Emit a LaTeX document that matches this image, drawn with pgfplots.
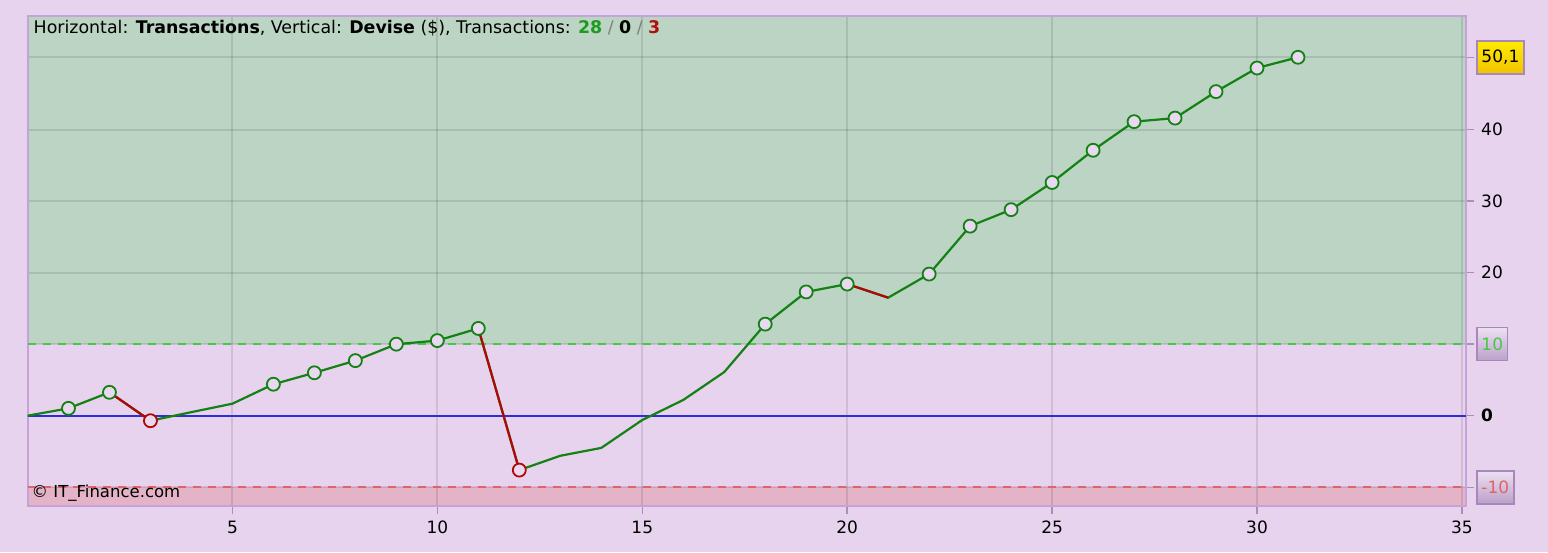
\documentclass[border=0pt]{standalone}
\usepackage{fontspec}
\setmainfont{DejaVu Sans}
\usepackage{pgfplots}
\pgfplotsset{compat=1.18}

\definecolor{bgl}{HTML}{E7D3EE}
\definecolor{zgreen}{HTML}{BCD4C4}
\definecolor{zred}{HTML}{E4B3C7}
\definecolor{lgreen}{HTML}{138213}
\definecolor{lred}{HTML}{B00808}
\definecolor{mfill}{HTML}{E8D8F0}
\definecolor{zline}{HTML}{2E2ED4}
\definecolor{gdash}{HTML}{46C846}
\definecolor{rdash}{HTML}{E06464}
\definecolor{frame}{HTML}{C6A2D8}
\definecolor{tickc}{HTML}{A890B4}
\definecolor{boxframe}{HTML}{A888B8}
\definecolor{tgreen}{HTML}{1E9A1E}
\definecolor{tred}{HTML}{B01010}
\pagecolor{bgl}

% boxed tick label: top colour, bottom colour, text colour, text
\newcommand\boxlab[4]{\tikz[baseline=(b.base)]\node[rectangle, draw=boxframe,
  line width=1.5pt, top color=#1, bottom color=#2, text=#3, inner xsep=4.5pt,
  minimum height=33pt, anchor=base](b){#4};}
\newcommand\plainlab[1]{\hspace*{5pt}#1}

\begin{document}
\begin{tikzpicture}[font=\fontsize{17}{20}\selectfont]
\path (0,0) rectangle (1548pt,552pt);
\begin{axis}[
    at={(27.5pt,46.5pt)}, anchor=south west,
    scale only axis, width=1438.5pt, height=489pt,
    xmin=0, xmax=35.1, ymin=-12.55, ymax=55.8,
    set layers,
    /pgf/number format/assume math mode=true,
    axis line style={draw=frame, line width=2pt},
    xtick={5,10,15,20,25,30,35},
    xtick pos=bottom, ytick pos=right, yticklabel pos=right,
    ytick={-10,0,10,20,30,40,50.1},
    yticklabels={{\boxlab{mfill!80!white}{boxframe!70!mfill}{rdash}{-10}},
      {\plainlab{\textbf{0}}},
      {\boxlab{mfill!80!white}{boxframe!70!mfill}{gdash}{10}},
      {\plainlab{20}},{\plainlab{30}},{\plainlab{40}},
      {\boxlab{yellow!85!orange}{orange!40!yellow!95!black}{black}{50,1}}},
    tick align=outside, major tick length=8pt,
    tick style={draw=tickc, line width=1.5pt},
    yticklabel style={anchor=west, inner sep=0pt, xshift=2pt},
    xticklabel style={anchor=north, inner sep=0pt, yshift=-7pt},
    grid=major,
    grid style={draw=black, opacity=0.1, line width=2pt},
    clip=true,
  ]
% zones
\addplot[on layer=axis background, fill=zgreen, draw=none]
  coordinates {(0,10) (35.1,10) (35.1,55.8) (0,55.8)} -- cycle;
\addplot[on layer=axis background, fill=bgl, draw=none]
  coordinates {(0,-10) (35.1,-10) (35.1,10) (0,10)} -- cycle;
\addplot[on layer=axis background, fill=zred, draw=none]
  coordinates {(0,-12.55) (35.1,-12.55) (35.1,-10) (0,-10)} -- cycle;
% reference lines
\addplot[gdash, line width=2pt, dash pattern=on 8pt off 7pt] coordinates {(0,10) (35.1,10)};
\addplot[rdash, line width=1.6pt, dash pattern=on 8pt off 7pt] coordinates {(0,-10) (35.1,-10)};
\addplot[zline, line width=2pt] coordinates {(0,0) (35.1,0)};
% equity curve
\addplot[lgreen, line width=2.2pt] coordinates {
  (0,0) (1,1.03) (2,3.27) (3,-0.7) (4,0.5) (5,1.68) (6,4.4) (7,6.0) (8,7.7)
  (9,10.0) (10,10.5) (11,12.2) (12,-7.6) (13,-5.6) (14,-4.5) (15,-0.6)
  (16,2.2) (17,6.1) (18,12.8) (19,17.3) (20,18.4) (21,16.5) (22,19.8)
  (23,26.5) (24,28.8) (25,32.6) (26,37.1) (27,41.1) (28,41.6) (29,45.3)
  (30,48.6) (31,50.1)};
% losing trades
\addplot[lred, line width=2.2pt, unbounded coords=jump] coordinates {
  (2,3.27) (3,-0.7) (3,nan) (11,12.2) (12,-7.6) (12,nan) (20,18.4) (21,16.5)};
% markers
\addplot[only marks, mark=*, mark size=6.5pt,
  mark options={draw=lgreen, fill=mfill, line width=1.8pt}] coordinates {
  (1,1.03) (2,3.27) (6,4.4) (7,6.0) (8,7.7) (9,10.0) (10,10.5) (11,12.2)
  (18,12.8) (19,17.3) (20,18.4) (22,19.8) (23,26.5) (24,28.8) (25,32.6)
  (26,37.1) (27,41.1) (28,41.6) (29,45.3) (30,48.6) (31,50.1)};
\addplot[only marks, mark=*, mark size=6.5pt,
  mark options={draw=lred, fill=mfill, line width=1.8pt}] coordinates {
  (3,-0.7) (12,-7.6)};
% texts
\node[anchor=north west, inner sep=0pt, font=\fontsize{17.4}{20}\selectfont]
  at ([xshift=6pt,yshift=-4pt]rel axis cs:0,1)
  {Horizontal: \textbf{Transactions}, Vertical: \textbf{Devise} (\$), Transactions:
   \textcolor{tgreen}{\textbf{28}} \textcolor{gray}{/} \textbf{0}
   \textcolor{gray}{/} \textcolor{tred}{\textbf{3}}};
\node[anchor=south west, inner sep=0pt, font=\fontsize{16.5}{19}\selectfont]
  at ([xshift=4pt,yshift=4pt]rel axis cs:0,0) {© IT\_Finance.com};
\end{axis}
\end{tikzpicture}
\end{document}
